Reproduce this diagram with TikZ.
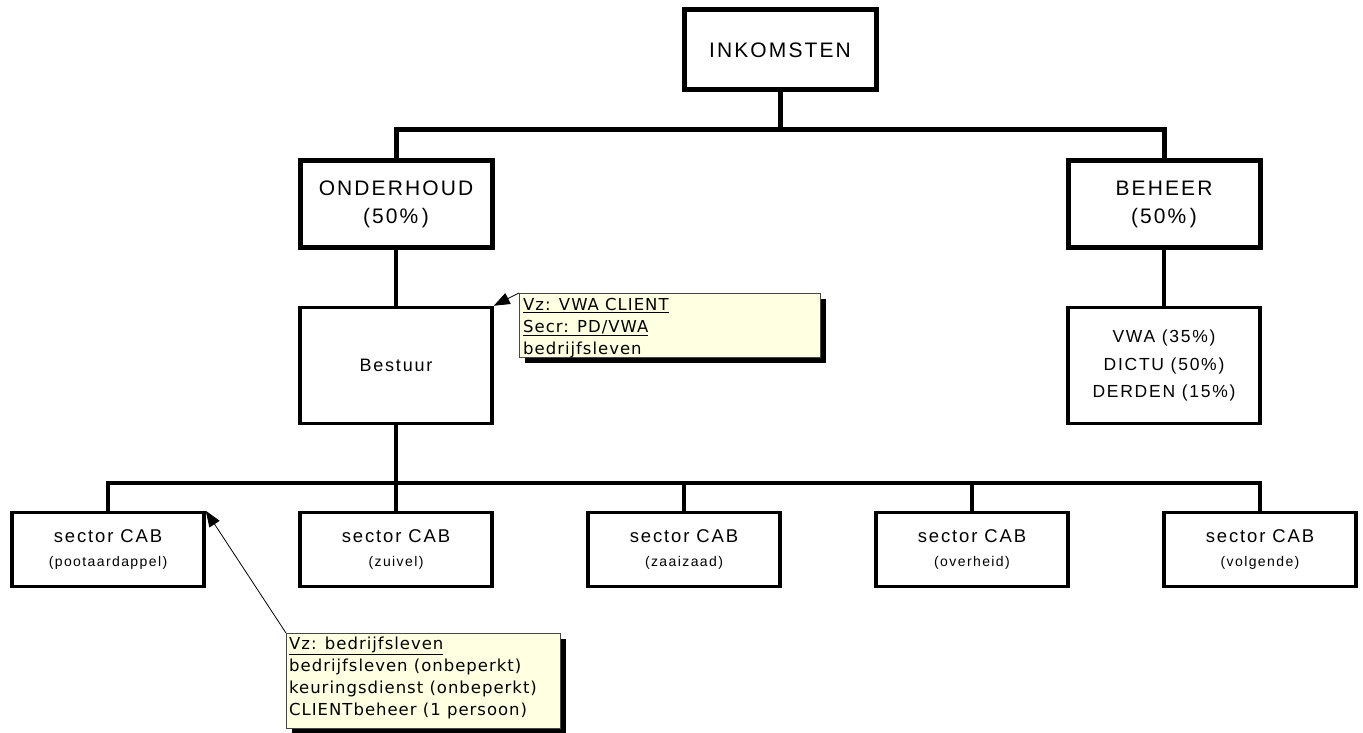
\documentclass[tikz,border=0pt]{standalone}
\usepackage{fontspec}
\setmainfont{Liberation Sans}
\newfontfamily\boxfont[LetterSpace=10]{Liberation Sans}
\newfontfamily\notefont[LetterSpace=6]{DejaVu Sans}
\usetikzlibrary{arrows.meta,shadows}
\definecolor{notefill}{RGB}{255,255,225}
\definecolor{noteline}{RGB}{70,70,70}

\begin{document}
\begin{tikzpicture}[x=1pt,y=-1pt,
  heavybox/.style={draw, line width=5pt, minimum width=192pt, inner sep=0pt,
    align=center, font=\boxfont\fontsize{21}{28}\selectfont},
  plainbox/.style={draw, line width=3.5pt, minimum width=192pt, inner sep=0pt,
    align=center},
  sectorbox/.style={plainbox, minimum height=74pt,
    font=\boxfont\fontsize{18.5}{24}\selectfont},
  heavyconn/.style={line width=5pt},
  conn/.style={line width=3.5pt},
  note/.style={draw=noteline, line width=1pt, fill=notefill, inner sep=0pt,
    anchor=north west,
    drop shadow={shadow xshift=5pt, shadow yshift=-5pt, opacity=1, fill=black}},
  notetext/.style={anchor=north west, inner sep=0pt, align=left,
    font=\notefont\fontsize{16.5}{22}\selectfont},
  pointer/.style={line width=0.8pt, -{Triangle[length=16pt,width=12pt]}}
]
\useasboundingbox (0,0) rectangle (1363,733);

% top level
\node[heavybox, minimum height=80pt] (inkomsten) at (780,50) {INKOMSTEN};
\node[heavybox, minimum height=87.5pt] (onderhoud) at (396,204) {ONDERHOUD\\(50\%\,)};
\node[heavybox, minimum height=87.5pt] (beheer) at (1164,204) {BEHEER\\(50\%\,)};

% second level
\node[plainbox, minimum height=116pt, font=\boxfont\fontsize{18}{24}\selectfont]
  (bestuur) at (396,365.5) {Bestuur};
\node[plainbox, minimum height=116pt, font=\boxfont\fontsize{17.5}{27.5}\selectfont]
  (verdeling) at (1164,365.5) {VWA (35\%)\\DICTU (50\%)\\DERDEN (15\%)};

% sectors
\node[sectorbox] (s1) at (108,549.5) {sector CAB\\{\fontsize{14}{24}\selectfont (pootaardappel)}};
\node[sectorbox] (s2) at (396,549.5) {sector CAB\\{\fontsize{14}{24}\selectfont (zuivel)}};
\node[sectorbox] (s3) at (684,549.5) {sector CAB\\{\fontsize{14}{24}\selectfont (zaaizaad)}};
\node[sectorbox] (s4) at (972,549.5) {sector CAB\\{\fontsize{14}{24}\selectfont (overheid)}};
\node[sectorbox] (s5) at (1260,549.5) {sector CAB\\{\fontsize{14}{24}\selectfont (volgende)}};

% connectors
\coordinate (bar1) at (780,130);
\coordinate (bar2) at (396,483);
\draw[heavyconn] (inkomsten.south) -- (bar1);
\draw[heavyconn] (onderhoud.north) -- (onderhoud.north |- bar1)
  -- (beheer.north |- bar1) -- (beheer.north);
\draw[conn] (onderhoud.south) -- (bestuur.north);
\draw[conn] (beheer.south) -- (verdeling.north);
\draw[conn] (bestuur.south) -- (s2.north);
\draw[conn] (s1.north) -- (s1.north |- bar2) -- (s5.north |- bar2) -- (s5.north);
\draw[conn] (s3.north) -- (s3.north |- bar2);
\draw[conn] (s4.north) -- (s4.north |- bar2);

% comment boxes
\node[note, minimum width=301pt, minimum height=64pt] (c1) at (519,293) {};
\begin{scope}
  \clip (c1.north west) rectangle (c1.south east);
  \node[notetext] (c1text) at (523,298)
    {\underline{Vz: VWA CLIENT}\\\underline{Secr: PD/VWA}\\bedrijfsleven};
\end{scope}
\draw[pointer] (c1.north west) -- (bestuur.north east);

\node[note, minimum width=274pt, minimum height=95pt] (c2) at (286,633) {};
\node[notetext] (c2text) at (289,637)
  {\underline{Vz: bedrijfsleven}\\bedrijfsleven (onbeperkt)\\keuringsdienst (onbeperkt)\\CLIENTbeheer (1 persoon)};
\draw[pointer] (c2.north west) -- (s1.north east);
\end{tikzpicture}
\end{document}
